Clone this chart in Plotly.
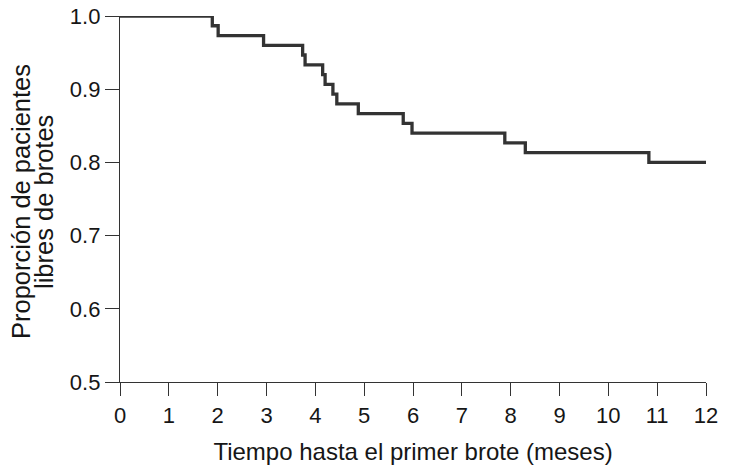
import plotly.graph_objects as go

# Kaplan-Meier step curve (time in months, proportion free of relapse)
times = [0, 1.89, 2.01, 2.94, 3.74, 3.79, 4.15, 4.20, 4.36, 4.44, 4.88, 5.80, 5.98, 7.88, 8.30, 10.83, 12.0]
survival = [1.0, 0.9867, 0.9733, 0.9600, 0.9467, 0.9333, 0.9200, 0.9067, 0.8933, 0.8800,
            0.8667, 0.8533, 0.8400, 0.8267, 0.8133, 0.8000, 0.8000]

x_ticks = list(range(0, 13))
y_ticks = [0.5, 0.6, 0.7, 0.8, 0.9, 1.0]
y_tick_labels = ["0.5", "0.6", "0.7", "0.8", "0.9", "1.0"]

x_title = "Tiempo hasta el primer brote (meses)"
y_title_lines = ["Proporción de pacientes", "libres de brotes"]

FONT = "Liberation Sans, Arial, sans-serif"
AXIS_COLOR = "#333333"
TEXT_COLOR = "#161616"

fig = go.Figure()
fig.add_trace(go.Scatter(
    x=times, y=survival, mode="lines",
    line=dict(shape="hv", color="#333333", width=3.3),
    hoverinfo="x+y", showlegend=False,
))

fig.update_layout(
    width=729, height=465,
    margin=dict(l=120, r=23, t=16, b=83),
    paper_bgcolor="white", plot_bgcolor="white",
    font=dict(family=FONT, size=22, color=TEXT_COLOR),
)
fig.update_xaxes(
    range=[0, 12], tickmode="array", tickvals=x_ticks, ticktext=[str(t) for t in x_ticks],
    showline=True, linecolor=AXIS_COLOR, linewidth=1.3,
    ticks="outside", ticklen=13, tickwidth=1.3, tickcolor=AXIS_COLOR,
    showgrid=False, zeroline=False, automargin=False,
    title=dict(text=x_title, font=dict(family=FONT, size=24), standoff=16),
    tickfont=dict(family=FONT, size=22),
)
fig.update_yaxes(
    range=[0.5, 1.0], tickmode="array", tickvals=y_ticks, ticktext=y_tick_labels,
    showline=True, linecolor=AXIS_COLOR, linewidth=1.3,
    ticks="outside", ticklen=14, tickwidth=1.3, tickcolor=AXIS_COLOR,
    showgrid=False, zeroline=False, automargin=False,
    tickfont=dict(family=FONT, size=22),
)

# two-line y-axis title, drawn as rotated text lines with tight spacing
for line_text, shift in zip(y_title_lines, [-99, -76]):
    fig.add_annotation(
        text=line_text, xref="paper", yref="paper", x=0, y=0.5,
        xshift=shift, yshift=-3, textangle=-90, showarrow=False,
        xanchor="center", yanchor="middle",
        font=dict(family=FONT, size=25.5, color=TEXT_COLOR),
    )

fig.write_html("out.html", config={"displayModeBar": False},
               post_script="document.body.style.margin='0';")
